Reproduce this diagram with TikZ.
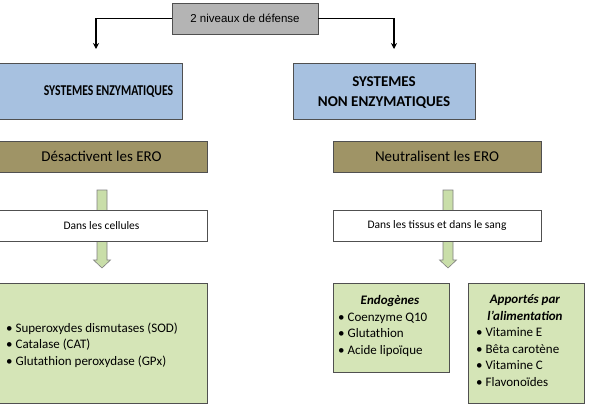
\documentclass[tikz,border=0pt]{standalone}
\usepackage{fontspec}
\usepackage{graphicx}
\setmainfont{Carlito}
\newfontfamily\arialfont{Liberation Sans}
\usetikzlibrary{shadows,arrows.meta,calc}
\definecolor{topgray}{HTML}{B4B4B4}
\definecolor{bluebox}{HTML}{A7C1E0}
\definecolor{khaki}{HTML}{9F9466}
\definecolor{greenbox}{HTML}{D5E5B7}
\definecolor{garrowfill}{HTML}{C9DEA9}
\definecolor{bordergray}{HTML}{505050}
\begin{document}
\begin{tikzpicture}[x=1pt,y=-1pt,
  box/.style={draw=bordergray, line width=0.8pt, inner sep=0pt,
    drop shadow={shadow xshift=1pt, shadow yshift=-1.2pt, fill=black, opacity=0.35}},
  graybox/.style={box, fill=topgray, font=\arialfont\fontsize{11.5}{13}\selectfont},
  bluebx/.style={box, fill=bluebox},
  bluetext/.style={font=\bfseries\fontsize{15}{20}\selectfont, align=center, inner sep=0pt},
  khakibox/.style={box, fill=khaki, font=\fontsize{15}{16}\selectfont},
  whitebox/.style={box, fill=white, font=\fontsize{11.5}{13}\selectfont},
  greenbx/.style={box, fill=greenbox},
  listtext/.style={font=\fontsize{13}{16.7}\selectfont, align=left, inner sep=0pt},
  garrow/.style={draw=gray, fill=garrowfill, line width=0.6pt, line join=miter},
  conn/.style={line width=1.3pt, -{Stealth[length=6pt,width=6pt]}}
]
\useasboundingbox (0,0) rectangle (595,407);

% top node
\node[graybox, minimum width=146pt, minimum height=31pt] (top) at (245,18.5) {2 niveaux de défense};

% blue boxes
\node[bluebx, minimum width=186pt, minimum height=56pt] (bL) at (89,91) {};
\node[bluetext] (bLt) at (108.5,92) {\scalebox{0.78}[1]{SYSTEMES ENZYMATIQUES}};
\node[bluebx, minimum width=182pt, minimum height=56pt] (bR) at (384,91) {};
\node[bluetext] (bRt) at (384,93) {SYSTEMES\\NON ENZYMATIQUES};

% arrows from top
\coordinate (aL) at (96,49);
\coordinate (aR) at (394,49);
\draw[conn] (top.west) -| (aL);
\draw[conn] (top.east) -| (aR);

% khaki boxes
\node[khakibox, minimum width=211pt, minimum height=31pt] (kL) at (101.5,156.5) {Désactivent les ERO};
\node[khakibox, minimum width=208pt, minimum height=31pt] (kR) at (437,156.5) {Neutralisent les ERO};

% green block arrows
\coordinate (gL) at (102,190);
\coordinate (gR) at (448,190);
\foreach \g in {gL,gR}{
  \draw[garrow] ($(\g)+(-5,0)$) -- ($(\g)+(5,0)$) -- ($(\g)+(5,70)$) -- ($(\g)+(8.5,70)$)
    -- ($(\g)+(0,78)$) -- ($(\g)+(-8.5,70)$) -- ($(\g)+(-5,70)$) -- cycle;
}

% white boxes
\node[whitebox, minimum width=211pt, minimum height=31pt] (wL) at (101.5,225.5) {Dans les cellules};
\node[whitebox, minimum width=208pt, minimum height=31pt] (wR) at (437,225.5) {Dans les tissus et dans le sang};

% bottom green boxes
\node[greenbx, minimum width=211pt, minimum height=120pt] (eL) at (101.5,343) {};
\node[listtext, anchor=west] (eLt) at (6,345) {• Superoxydes dismutases (SOD)\\• Catalase (CAT)\\• Glutathion peroxydase (GPx)};

\node[greenbx, minimum width=116pt, minimum height=89pt] (endo) at (391,327.5) {};
\node[listtext, anchor=base] (endoh) at (390,304.5) {\textbf{\textit{Endogènes}}};
\node[listtext, anchor=base west] (endot) at (338,354.5) {• Coenzyme Q10\\• Glutathion\\• Acide lipoïque};

\node[greenbx, minimum width=116pt, minimum height=120pt] (appo) at (526,343) {};
\node[listtext, anchor=base, align=center] (appot) at (525,320.5) {\textbf{\textit{Apportés par}}\\[0.8pt]\textbf{\textit{l'alimentation}}};
\node[listtext, anchor=base west] (appol) at (476,386.5) {• Vitamine E\\• Bêta carotène\\• Vitamine C\\• Flavonoïdes};
\end{tikzpicture}
\end{document}
